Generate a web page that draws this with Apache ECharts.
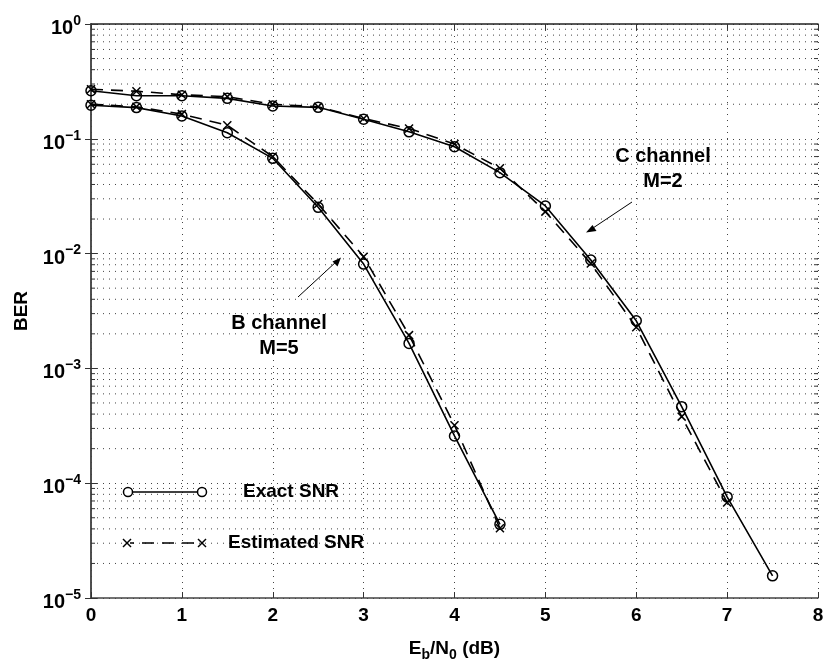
<!DOCTYPE html>
<html>
<head>
<meta charset="utf-8">
<style>
  html, body { margin: 0; padding: 0; background: #fff; }
  #chart { width: 825px; height: 663px; }
</style>
<script src="https://cdn.jsdelivr.net/npm/echarts@6/dist/echarts.min.js"></script>
</head>
<body>
<div id="chart"></div>
<script>
// Eb/N0 sweep (dB)
const snr = [0, 0.5, 1, 1.5, 2, 2.5, 3, 3.5, 4, 4.5, 5, 5.5, 6, 6.5, 7, 7.5];

// C channel, M=2
const cExact = [0.262, 0.237, 0.237, 0.225, 0.193, 0.188, 0.148, 0.115, 0.0853, 0.0507,
                0.026, 0.0088, 0.0026, 4.64e-4, 7.6e-5, 1.56e-5];
const cEstimated = [0.27, 0.26, 0.242, 0.233, 0.200, 0.190, 0.150, 0.123, 0.090, 0.0553,
                    0.0232, 0.0082, 0.00228, 3.8e-4, 6.8e-5];

// B channel, M=5
const bExact = [0.196, 0.187, 0.158, 0.113, 0.0676, 0.0253, 0.0081, 1.65e-3, 2.58e-4, 4.38e-5];
const bEstimated = [0.200, 0.190, 0.164, 0.131, 0.070, 0.027, 0.0094, 1.95e-3, 3.2e-4, 4.05e-5];

const xTicks = [0, 1, 2, 3, 4, 5, 6, 7, 8];
const yDecades = [-5, -4, -3, -2, -1, 0];

const FONT = '"Liberation Sans", Arial, Helvetica, sans-serif';
const CROSS = 'path://M0,0L10,10M10,0L0,10';
const DASH = [12, 8];

function pairs(xs, ys) { return ys.map((y, i) => [xs[i], y]); }

function exactSeries(name, ys) {
  return {
    name, type: 'line', data: pairs(snr, ys),
    symbol: 'circle', symbolSize: 10,
    itemStyle: { color: 'rgba(0,0,0,0)', borderColor: '#000', borderWidth: 1.5 },
    lineStyle: { color: '#000', width: 1.6, type: 'solid' },
    z: 5, animation: false
  };
}
function estSeries(name, ys) {
  return {
    name, type: 'line', data: pairs(snr, ys),
    symbol: CROSS, symbolSize: 8,
    itemStyle: { color: 'rgba(0,0,0,0)', borderColor: '#000', borderWidth: 1.5 },
    lineStyle: { color: '#000', width: 1.6, type: DASH },
    z: 4, animation: false
  };
}

// minor log grid lines (2..9 within each decade) plus the minor tick marks on both y sides
const minorValues = [];
yDecades.slice(0, -1).forEach(d => {
  for (let k = 2; k <= 9; k++) minorValues.push(k * Math.pow(10, d));
});

const minorGrid = {
  type: 'custom', silent: true, z: 1, animation: false,
  coordinateSystem: 'cartesian2d',
  data: [[0, 1]],
  renderItem(params, api) {
    const children = [];
    minorValues.forEach(v => {
      const a = api.coord([0, v]);
      const b = api.coord([8, v]);
      children.push({
        type: 'line', shape: { x1: a[0], y1: a[1], x2: b[0], y2: b[1] },
        style: { stroke: '#444', lineWidth: 1, lineDash: [1, 5] }
      });
      children.push({
        type: 'line', shape: { x1: a[0], y1: a[1], x2: a[0] + 4, y2: a[1] },
        style: { stroke: '#333', lineWidth: 1 }
      });
      children.push({
        type: 'line', shape: { x1: b[0] - 4, y1: b[1], x2: b[0], y2: b[1] },
        style: { stroke: '#333', lineWidth: 1 }
      });
    });
    return { type: 'group', children };
  }
};

function yLabel(value) {
  const e = Math.round(Math.log10(value));
  const s = e < 0 ? '\u2212' + (-e) : String(e);
  return '{b|10}{s|' + s + '}';
}

function cross(cx, cy, h) {
  return [
    { type: 'line', z: 10, shape: { x1: cx - h, y1: cy - h, x2: cx + h, y2: cy + h },
      style: { stroke: '#000', lineWidth: 1.5 } },
    { type: 'line', z: 10, shape: { x1: cx + h, y1: cy - h, x2: cx - h, y2: cy + h },
      style: { stroke: '#000', lineWidth: 1.5 } }
  ];
}

const chart = echarts.init(document.getElementById('chart'), null, { renderer: 'canvas' });

const axisLine = { show: true, lineStyle: { color: '#444', width: 1.5 } };
const tickStyle = { show: true, inside: true, length: 6, lineStyle: { color: '#333', width: 1 } };
const dotted = { show: true, lineStyle: { color: '#444', width: 1, type: [1, 5] } };

chart.setOption({
  backgroundColor: '#fff',
  animation: false,
  grid: { left: 91, top: 24, right: 7, bottom: 65, containLabel: false, outerBoundsMode: 'none' },
  xAxis: [
    {
      type: 'value', min: 0, max: 8, interval: 1, position: 'bottom',
      axisLine, axisTick: tickStyle, splitLine: dotted,
      axisLabel: {
        color: '#000', fontFamily: FONT, fontWeight: 'bold', fontSize: 19, margin: 8,
        formatter: v => xTicks.includes(v) ? String(v) : ''
      },
      name: '{m|E}{sub|b}{m|/N}{sub|0}{m| (dB)}',
      nameLocation: 'middle', nameGap: 40,
      nameTextStyle: {
        rich: {
          m: { fontFamily: FONT, fontWeight: 'bold', fontSize: 19, color: '#000', lineHeight: 22 },
          sub: { fontFamily: FONT, fontWeight: 'bold', fontSize: 14, color: '#000',
                 lineHeight: 22, padding: [12, 0, 0, 0] }
        }
      }
    },
    {
      type: 'value', min: 0, max: 8, interval: 1, position: 'top',
      axisLine: { show: true, lineStyle: { color: '#222', width: 1.5 } },
      axisTick: tickStyle, axisLabel: { show: false }, splitLine: { show: false }
    }
  ],
  yAxis: [
    {
      type: 'log', logBase: 10, min: 1e-5, max: 1,
      axisLine, axisTick: tickStyle, splitLine: dotted,
      axisLabel: {
        color: '#000', margin: 10,
        formatter: yLabel,
        rich: {
          b: { fontFamily: FONT, fontWeight: 'bold', fontSize: 20, color: '#000',
               lineHeight: 20, padding: [9, 0, 0, 0] },
          s: { fontFamily: FONT, fontWeight: 'bold', fontSize: 14, color: '#000',
               lineHeight: 14, verticalAlign: 'top' }
        }
      },
      name: 'BER', nameLocation: 'middle', nameGap: 60, nameRotate: 90,
      nameTextStyle: { fontFamily: FONT, fontWeight: 'bold', fontSize: 19, color: '#000' }
    },
    {
      type: 'log', logBase: 10, min: 1e-5, max: 1, position: 'right',
      axisLine, axisTick: tickStyle, axisLabel: { show: false }, splitLine: { show: false }
    }
  ],
  series: [
    minorGrid,
    exactSeries('C channel exact', cExact),
    estSeries('C channel estimated', cEstimated),
    exactSeries('B channel exact', bExact),
    estSeries('B channel estimated', bEstimated)
  ],
  graphic: [
    // legend
    { type: 'line', shape: { x1: 128, y1: 492, x2: 202, y2: 492 },
      style: { stroke: '#000', lineWidth: 1.6 }, z: 10 },
    { type: 'circle', shape: { cx: 128, cy: 492, r: 4.5 },
      style: { fill: '#fff', stroke: '#000', lineWidth: 1.5 }, z: 11 },
    { type: 'circle', shape: { cx: 202, cy: 492, r: 4.5 },
      style: { fill: '#fff', stroke: '#000', lineWidth: 1.5 }, z: 11 },
    { type: 'text', x: 243, y: 492, z: 10,
      style: { text: 'Exact SNR', fontFamily: FONT, fontWeight: 'bold', fontSize: 19,
               fill: '#000', verticalAlign: 'middle' } },

    { type: 'line', shape: { x1: 130, y1: 543, x2: 200, y2: 543 },
      style: { stroke: '#000', lineWidth: 1.6, lineDash: [12, 8], lineDashOffset: -12 }, z: 10 },
    ...cross(127, 543, 4),
    ...cross(202, 543, 4),
    { type: 'text', x: 228, y: 543, z: 10,
      style: { text: 'Estimated SNR', fontFamily: FONT, fontWeight: 'bold', fontSize: 19,
               fill: '#000', verticalAlign: 'middle' } },

    // channel annotations
    { type: 'text', x: 663, y: 169, z: 10,
      style: { text: 'C channel\nM=2', fontFamily: FONT, fontWeight: 'bold', fontSize: 20,
               lineHeight: 25, fill: '#000', align: 'center', verticalAlign: 'middle' } },
    { type: 'line', shape: { x1: 632, y1: 202, x2: 590, y2: 230 },
      style: { stroke: '#000', lineWidth: 1 }, z: 10 },
    { type: 'polygon', shape: { points: [[586, 232.5], [592.5, 225], [596.5, 231]] },
      style: { fill: '#000' }, z: 10 },

    { type: 'text', x: 279, y: 336, z: 10,
      style: { text: 'B channel\nM=5', fontFamily: FONT, fontWeight: 'bold', fontSize: 20,
               lineHeight: 25, fill: '#000', align: 'center', verticalAlign: 'middle' } },
    { type: 'line', shape: { x1: 298, y1: 297, x2: 337, y2: 261 },
      style: { stroke: '#000', lineWidth: 1 }, z: 10 },
    { type: 'polygon', shape: { points: [[341, 257.5], [332.5, 261.5], [337.5, 266.5]] },
      style: { fill: '#000' }, z: 10 }
  ]
});
</script>
</body>
</html>
